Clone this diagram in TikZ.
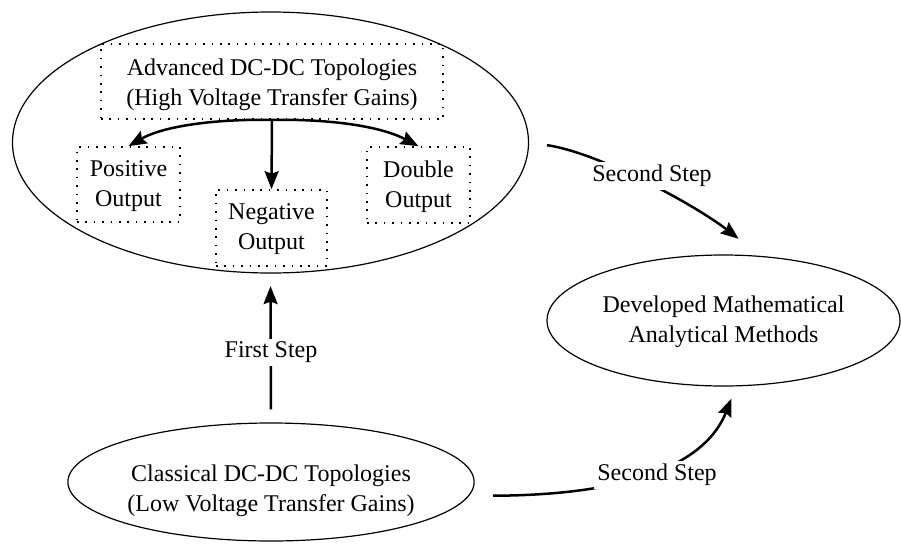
\documentclass[tikz,border=0pt]{standalone}
\usepackage{fontspec}
\setmainfont{Liberation Serif}
\usetikzlibrary{shapes.geometric,arrows.meta}
\begin{document}
\begin{tikzpicture}[x=1pt,y=-1pt,
  font=\fontsize{24}{30}\selectfont,
  oval/.style={draw, ellipse, line width=1.2pt, inner sep=0pt, align=center},
  dotbox/.style={draw, line width=1.6pt, dash pattern=on 1.6pt off 6.8pt, inner sep=0pt, align=center},
  flow/.style={line width=2.5pt, -{Stealth[length=18pt,width=14pt,inset=2.5pt]}},
  steplabel/.style={fill=white, inner sep=3pt}]
\useasboundingbox (0,0) rectangle (901,543);

% upper group: advanced topologies and their three output types
\node[oval, minimum width=516pt, minimum height=261pt] (big) at (270.5,142.5) {};
\node[dotbox, minimum width=342pt, minimum height=75pt] (adv) at (272,81.5)
  {\rule{0pt}{23.7pt}Advanced DC-DC Topologies\\(High Voltage Transfer Gains)};
\node[dotbox, minimum width=103pt, minimum height=75pt] (pos) at (128.5,184.5)
  {\rule{0pt}{20pt}Positive\\Output};
\node[dotbox, minimum width=111pt, minimum height=76pt] (neg) at (271.5,228)
  {\rule{0pt}{19pt}Negative\\Output};
\node[dotbox, minimum width=103pt, minimum height=76pt] (dbl) at (418.5,185)
  {\rule{0pt}{20pt}Double\\Output};

% analytical methods and classical topologies
\node[oval, minimum width=353pt, minimum height=131pt] (dev) at (723.5,320.5)
  {\rule{0pt}{19pt}Developed Mathematical\\Analytical Methods};
\node[oval, minimum width=368pt, minimum height=118pt] (cls) at (271,482)
  {\rule{0pt}{35pt}Classical DC-DC Topologies\\(Low Voltage Transfer Gains)};

% branches inside the upper group
\draw[flow] (adv.south) .. controls (205,119) and (160,128) .. (pos.north);
\draw[flow] (adv.south) .. controls (339,119) and (384,128) .. (dbl.north);
\draw[flow] (adv.south) -- (neg.north);

% first step
\draw[flow, shorten <=13pt, shorten >=12.5pt] (cls.north) -- (big.south);
\node[steplabel] (first) at (271,352) {First Step};

% second steps
\draw[flow, shorten <=18pt, shorten >=28pt] (big.east) .. controls (600,153) and (695,205) .. (dev.60);
\node[steplabel] (seca) at (652,176) {Second Step};
\draw[flow, shorten <=24pt, shorten >=13pt] (cls.-4.5) .. controls (640,495) and (707,460) .. (dev.-79);
\node[steplabel] (secb) at (657,475) {Second Step};
\end{tikzpicture}
\end{document}
